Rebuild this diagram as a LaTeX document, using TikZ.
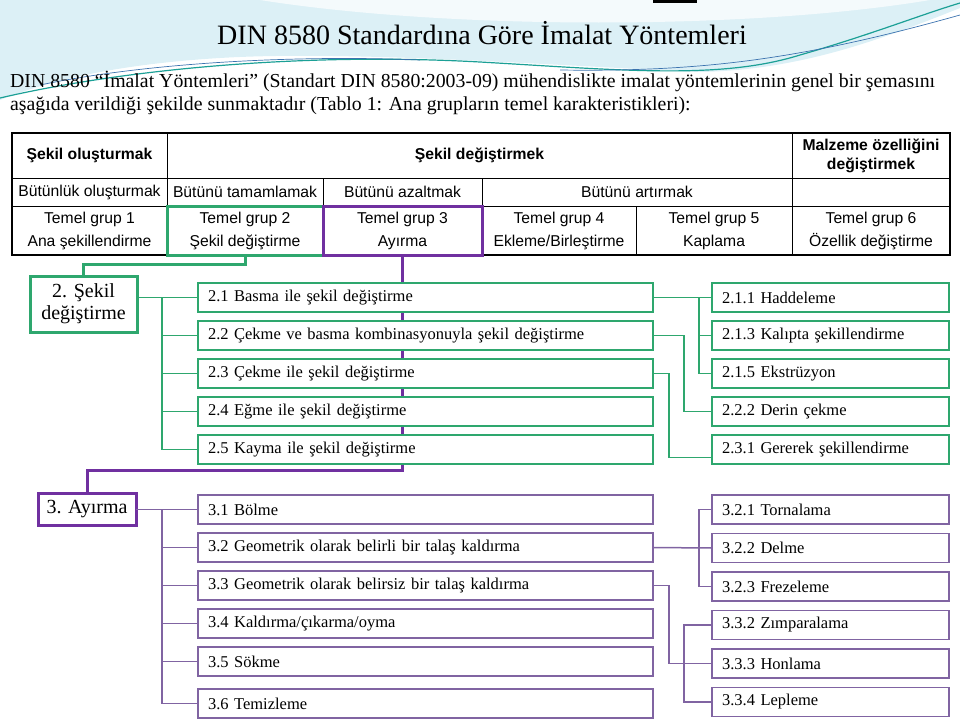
\documentclass[tikz,border=0pt]{standalone}
\usepackage{fontspec}
\setmainfont{Liberation Serif}
\newfontfamily\tablefont{Liberation Sans}
\usetikzlibrary{positioning}
\definecolor{grp}{RGB}{46,167,110}
\definecolor{purp}{RGB}{112,48,160}
\definecolor{purl}{RGB}{128,100,162}
\definecolor{swoosh}{RGB}{220,240,246}
\definecolor{tealline}{RGB}{28,160,150}
\definecolor{blueline}{RGB}{60,115,175}
\tikzset{
	cell/.style={
		draw,
		line width=1pt,
		inner sep=0pt,
		outer sep=0pt,
		align=center,
		font={\tablefont\fontsize{15.7}{23}\selectfont}
	},
	headcell/.style={
		cell,
		font={\tablefont\bfseries\fontsize{15.7}{19}\selectfont}
	},
	mainbox/.style={
		draw,
		line width=3pt,
		fill=white,
		align=center,
		inner sep=0pt,
		outer sep=0pt,
		font={\fontsize{20}{22}\selectfont}
	},
	subbox/.style={
		draw,
		line width=1.5pt,
		fill=white,
		anchor=north west,
		minimum height=29pt,
		inner xsep=10pt,
		inner ysep=2pt,
		outer sep=0pt,
		align=left,
		font={\fontsize{16.5}{18}\selectfont}
	},
	gsub/.style={subbox, draw=grp, text width=435pt},
	psub/.style={subbox, draw=purl, text width=435pt},
	gleaf/.style={subbox, draw=grp, text width=217pt},
	pleaf/.style={subbox, draw=purl, text width=217pt},
	gline/.style={draw=grp, line width=1.5pt},
	pline/.style={draw=purl, line width=1.5pt}
}
\begin{document}
\begin{tikzpicture}[x=1pt, y=-1pt]
	\useasboundingbox (0,0) rectangle (960,720);
	
	% slide background
	\fill[swoosh] (0,0) -- (960,0) -- (960,8) .. controls (880,40) and (800,70) .. (700,72) .. controls (560,66) and (350,50) .. (220,58) .. controls (120,64) and (50,80) .. (0,100) -- cycle;
	\fill[white, opacity=0.7] (260,0) .. controls (450,30) and (750,30) .. (930,0) -- cycle;
	\draw[tealline, line width=1.2pt] (0,98) .. controls (120,70) and (300,52) .. (480,62) .. controls (620,70) and (720,80) .. (800,55) .. controls (870,35) and (920,15) .. (960,3);
	\draw[blueline, line width=0.7pt] (40,85) .. controls (150,62) and (300,55) .. (420,60);
	\draw[blueline, line width=0.7pt] (560,70) .. controls (700,72) and (800,60) .. (960,15);
	\fill (653,0) rectangle (697,3);
	
	\node (title) [anchor=base] at (482,44) {\fontsize{28}{30}\selectfont DIN 8580 Standardına Göre İmalat Yöntemleri};
	\node (intro) [anchor=north west, align=left, inner sep=0pt, font={\fontsize{19.8}{22.5}\selectfont}] at (10,71) {DIN 8580 “İmalat Yöntemleri” (Standart DIN 8580:2003-09) mühendislikte imalat yöntemlerinin genel bir şemasını\\aşağıda verildiği şekilde sunmaktadır (Tablo 1: Ana grupların temel karakteristikleri):};
	
	% table
	\node (hForm)[headcell, minimum width=155pt, minimum height=45pt, anchor=north west] at (12,133) {Şekil oluşturmak};
	\node (hShape)[headcell, minimum width=625pt, minimum height=45pt, right=0pt of hForm] {Şekil değiştirmek};
	\node (hMat)[headcell, minimum width=158pt, minimum height=45pt, right=0pt of hShape] {Malzeme özelliğini\\değiştirmek};
	
	\node (aForm)[cell, minimum width=155pt, minimum height=28pt, below=0pt of hForm] {Bütünlük oluşturmak};
	\node (aAdd)[cell, minimum width=156pt, minimum height=28pt, right=0pt of aForm] {Bütünü tamamlamak};
	\node (aCut)[cell, minimum width=159pt, minimum height=28pt, right=0pt of aAdd] {Bütünü azaltmak};
	\node (aJoin)[cell, minimum width=310pt, minimum height=28pt, right=0pt of aCut] {Bütünü artırmak};
	\node (aMat)[cell, minimum width=158pt, minimum height=28pt, right=0pt of aJoin] {};
	
	\node (g1)[cell, minimum width=155pt, minimum height=49pt, below=0pt of aForm] {Temel grup 1\\Ana şekillendirme};
	\node (g2)[cell, minimum width=156pt, minimum height=49pt, right=0pt of g1] {Temel grup 2\\Şekil değiştirme};
	\node (g3)[cell, minimum width=159pt, minimum height=49pt, right=0pt of g2] {Temel grup 3\\Ayırma};
	\node (g4)[cell, minimum width=154pt, minimum height=49pt, right=0pt of g3] {Temel grup 4\\Ekleme/Birleştirme};
	\node (g5)[cell, minimum width=156pt, minimum height=49pt, right=0pt of g4] {Temel grup 5\\Kaplama};
	\node (g6)[cell, minimum width=158pt, minimum height=49pt, right=0pt of g5] {Temel grup 6\\Özellik değiştirme};
	
	\draw[line width=2pt] (hForm.north west) rectangle (g6.south east);
	\draw[grp, line width=3pt] (g2.north west) rectangle (g2.south east);
	\draw[purp, line width=3pt] (g3.north west) rectangle (g3.south east);
	
	% the two groups
	\node (s2box)[mainbox, draw=grp, minimum width=107pt, minimum height=56pt] at (83.5,304) {2. Şekil\\değiştirme};
	\node (s3box)[mainbox, draw=purp, minimum width=98pt, minimum height=32pt] at (87,509) {3. Ayırma};
	\draw[grp, line width=3pt] (g2.south) -- ++(0,9) -| (s2box.north);
	\draw[purp, line width=3pt] (g3.south) -- ++(0,215) -| (s3box.north);
	
	% group 2
	\node (b21)[gsub] at (198,283) {2.1 Basma ile şekil değiştirme};
	\node (b22)[gsub, below=9pt of b21] {2.2 Çekme ve basma kombinasyonuyla şekil değiştirme};
	\node (b23)[gsub, below=9pt of b22] {2.3 Çekme ile şekil değiştirme};
	\node (b24)[gsub, below=9pt of b23] {2.4 Eğme ile şekil değiştirme};
	\node (b25)[gsub, below=9pt of b24] {2.5 Kayma ile şekil değiştirme};
	
	\node (r211)[gleaf] at (712,283) {2.1.1 Haddeleme};
	\node (r213)[gleaf, below=9pt of r211] {2.1.3 Kalıpta şekillendirme};
	\node (r215)[gleaf, below=9pt of r213] {2.1.5 Ekstrüzyon};
	\node (r222)[gleaf, below=9pt of r215] {2.2.2 Derin çekme};
	\node (r231)[gleaf, below=9pt of r222] {2.3.1 Gererek şekillendirme};
	
	\draw[gline] (s2box.east |- b21.west) -- (b21.west);
	\foreach \i in {2,...,5}
		\draw[gline] ([xshift=-36pt]b21.west) |- (b2\i.west);
	\draw[gline] (b21.east) -- (r211.west);
	\foreach \n in {r213,r215}
		\draw[gline] ([xshift=-13pt]r211.west) |- (\n.west);
	\draw[gline] (b22.east) -- ++(31,0) |- (r222.west);
	\draw[gline] (b23.east) -- ++(16,0) |- ([yshift=-8pt]r231.west);
	
	% group 3
	\node (b31)[psub] at (198,495) {3.1 Bölme};
	\node (b32)[psub, below=9pt of b31] {3.2 Geometrik olarak belirli bir talaş kaldırma};
	\node (b33)[psub, below=9pt of b32] {3.3 Geometrik olarak belirsiz bir talaş kaldırma};
	\node (b34)[psub, below=9pt of b33] {3.4 Kaldırma/çıkarma/oyma};
	\node (b35)[psub, below=9pt of b34] {3.5 Sökme};
	\node (b36)[psub, below=13pt of b35] {3.6 Temizleme};
	
	\node (r321)[pleaf] at (712,495) {3.2.1 Tornalama};
	\node (r322)[pleaf, below=9.5pt of r321] {3.2.2 Delme};
	\node (r323)[pleaf, below=9.5pt of r322] {3.2.3 Frezeleme};
	\node (r332)[pleaf, below=9.5pt of r323] {3.3.2 Zımparalama};
	\node (r333)[pleaf, below=9.5pt of r332] {3.3.3 Honlama};
	\node (r334)[pleaf, below=9.5pt of r333] {3.3.4 Lepleme};
	
	\draw[pline] (s3box.east |- b31.west) -- (b31.west);
	\foreach \i in {2,...,6}
		\draw[pline] ([xshift=-36pt]b31.west) |- (b3\i.west);
	\draw[pline] (b32.east) -- (r322.west);
	\foreach \n in {r321,r323}
		\draw[pline] ([xshift=-13pt]r322.west) |- (\n.west);
	\draw[pline] (b33.east) -- ++(16,0) |- (r333.west);
	\draw[pline] (r332.west) -- ++(-28,0) |- (r334.west);
	
\end{tikzpicture}
\end{document}
